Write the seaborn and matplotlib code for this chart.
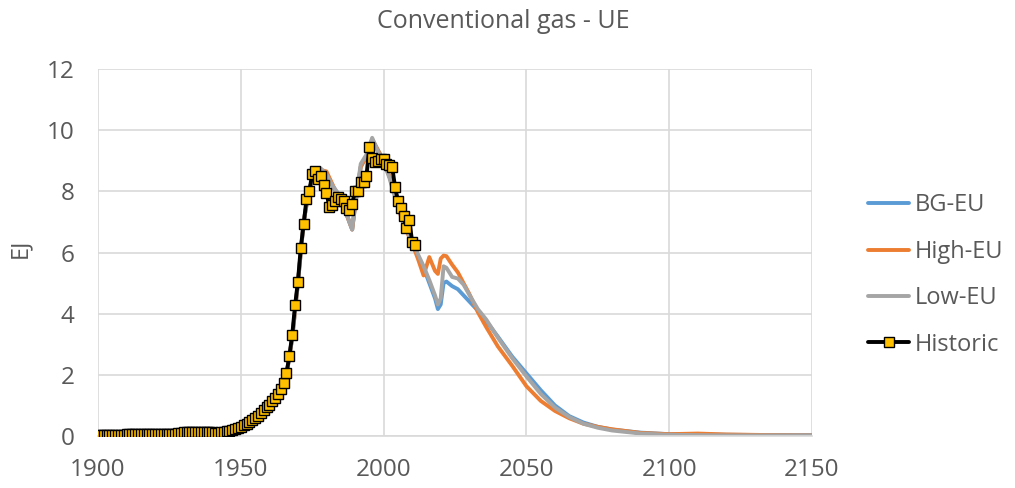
import numpy as np
import pandas as pd
import matplotlib
matplotlib.use("Agg")
import matplotlib.pyplot as plt
import seaborn as sns

# ---------------- data ----------------
hist_years = list(range(1900, 2012))
hist_values = (
    [0.04] * 10 +
    [0.05] * 11 +
    [0.08] * 7 +
    [0.11, 0.11, 0.12, 0.12, 0.12, 0.12, 0.12, 0.12, 0.12, 0.12, 0.13, 0.13, 0.12, 0.11] +
    [0.10, 0.12, 0.14, 0.15] +
    [0.17, 0.19, 0.22, 0.26, 0.30, 0.35, 0.40, 0.46, 0.53, 0.60,
     0.66, 0.75, 0.86, 0.95, 1.02, 1.13, 1.25, 1.38, 1.55, 1.72] +
    [2.05, 2.62, 3.30, 4.27, 5.05, 6.15, 6.92, 7.74, 8.00, 8.58, 8.67] +
    [8.40, 8.50, 8.20, 7.95, 7.50, 7.55, 7.70, 7.80, 7.75, 7.70,
     7.45, 7.40, 7.60, 8.00, 8.00, 8.30, 8.30, 8.50] +
    [9.45, 9.10, 8.95, 9.00, 9.05, 9.05, 8.90, 8.85, 8.80, 8.15,
     7.70, 7.45, 7.20, 6.80, 7.05, 6.35, 6.25]
)

scen_years = [1900, 1920, 1940, 1950, 1955, 1960, 1963, 1966, 1968, 1970,
              1972, 1974, 1976, 1978, 1980, 1982, 1984, 1986, 1988, 1989,
              1990, 1992, 1994, 1996, 1998, 2000, 2002, 2004, 2006, 2008,
              2010, 2012, 2014, 2016, 2018, 2019, 2020, 2021, 2022, 2024,
              2026, 2028, 2030, 2033, 2036, 2040, 2045, 2050, 2055, 2060,
              2065, 2070, 2075, 2080, 2090, 2100, 2110, 2120, 2135, 2150]

bg_eu = [0.04, 0.06, 0.11, 0.30, 0.60, 1.00, 1.35, 2.00, 3.20, 5.00,
         7.00, 8.10, 8.55, 8.70, 8.60, 8.20, 7.85, 7.50, 7.00, 6.75,
         7.50, 8.80, 9.15, 9.70, 9.35, 9.00, 8.50, 7.90, 7.25, 6.75,
         6.35, 5.90, 5.50, 5.00, 4.50, 4.15, 4.30, 5.00, 5.05, 4.90,
         4.80, 4.60, 4.40, 4.10, 3.75, 3.25, 2.60, 2.05, 1.50, 1.00,
         0.65, 0.44, 0.30, 0.21, 0.11, 0.06, 0.05, 0.04, 0.03, 0.03]

high_eu = [0.04, 0.06, 0.11, 0.30, 0.60, 1.00, 1.35, 2.00, 3.20, 5.00,
           7.00, 8.10, 8.55, 8.70, 8.65, 8.25, 7.85, 7.50, 7.00, 6.75,
           7.50, 8.80, 9.15, 9.70, 9.35, 9.00, 8.50, 7.90, 7.20, 6.70,
           6.30, 5.80, 5.25, 5.85, 5.40, 5.30, 5.80, 5.90, 5.88, 5.60,
           5.35, 5.00, 4.65, 4.05, 3.55, 2.93, 2.30, 1.63, 1.15, 0.82,
           0.58, 0.40, 0.30, 0.22, 0.10, 0.06, 0.08, 0.05, 0.03, 0.02]

low_eu = [0.04, 0.06, 0.11, 0.30, 0.60, 1.00, 1.35, 2.00, 3.20, 5.00,
          7.00, 8.10, 8.60, 8.75, 8.55, 8.20, 7.95, 7.60, 7.00, 6.75,
          7.60, 8.90, 9.20, 9.75, 9.30, 8.95, 8.45, 7.80, 7.25, 6.75,
          6.35, 5.95, 5.55, 5.10, 4.60, 4.30, 4.50, 5.55, 5.50, 5.20,
          5.15, 4.95, 4.62, 4.15, 3.80, 3.22, 2.55, 1.95, 1.38, 0.93,
          0.62, 0.40, 0.27, 0.18, 0.08, 0.04, 0.03, 0.02, 0.02, 0.02]

series_names = ["BG-EU", "High-EU", "Low-EU"]
series_colors = ["#5B9BD5", "#ED7D31", "#A5A5A5"]
x_ticks = [1900, 1950, 2000, 2050, 2100, 2150]
y_ticks = [0, 2, 4, 6, 8, 10, 12]

# ---------------- plot ----------------
sns.set_theme(style="white")
plt.rcParams["font.family"] = ["Open Sans", "DejaVu Sans"]
txt_color = "#595959"

fig = plt.figure(figsize=(10.15, 4.88), dpi=100)
ax = fig.add_axes([98 / 1015, 1 - 436 / 488, (812 - 98) / 1015, (436 - 69) / 488])

for name, vals, col in zip(series_names, [bg_eu, high_eu, low_eu], series_colors):
    sns.lineplot(x=scen_years, y=vals, ax=ax, color=col, linewidth=2.8,
                 label=name, zorder=2)

sns.lineplot(x=hist_years, y=hist_values, ax=ax, color="black", linewidth=2.8,
             marker="s", markersize=7, markerfacecolor="#FFC000",
             markeredgecolor="black", markeredgewidth=1.0, label="Historic",
             zorder=3)

ax.set_xlim(1900, 2150)
ax.set_ylim(0, 12)
ax.set_xticks(x_ticks)
ax.set_yticks(y_ticks)
ax.tick_params(axis="both", length=0, labelsize=17.5, colors=txt_color)
ax.tick_params(axis="x", pad=16)
ax.tick_params(axis="y", pad=17)
ax.grid(True, color="#D9D9D9", linewidth=1.2)
ax.set_axisbelow(True)
for s in ["top", "right", "left"]:
    ax.spines[s].set_visible(False)
ax.spines["bottom"].set_color("#D9D9D9")
ax.spines["bottom"].set_linewidth(1.2)

ax.set_xlabel("")
ax.set_ylabel("")
fig.text(20 / 1015, 1 - 248 / 488, "EJ", rotation=90, ha="center",
         va="center", fontsize=17, color=txt_color)

fig.text(503 / 1015, 1 - 22 / 488, "Conventional gas - UE", ha="center",
         va="center", fontsize=18, color=txt_color)

handles, labels = ax.get_legend_handles_labels()
ax.get_legend().remove()
fig.legend(handles, labels, loc="center left",
           bbox_to_anchor=(868 / 1015, 1 - 275 / 488), frameon=False,
           fontsize=17, labelcolor=txt_color, handlelength=1.75,
           handletextpad=0.25, labelspacing=0.95, borderpad=0,
           borderaxespad=0)

fig.savefig("out.png", dpi=100)
